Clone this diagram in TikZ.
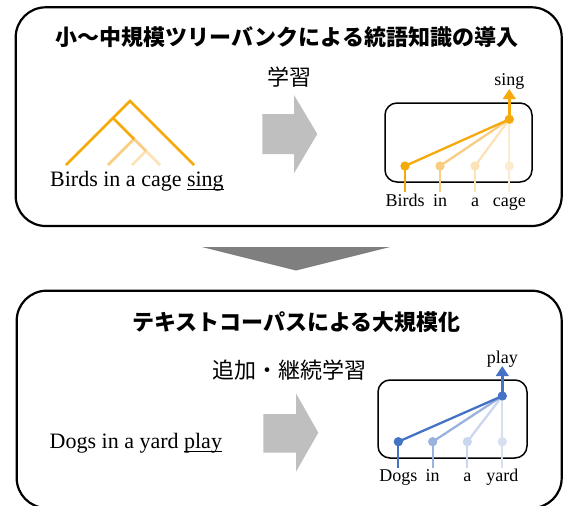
\documentclass[tikz,border=0pt]{standalone}
\usepackage{fontspec}
\setmainfont{Liberation Serif}
\newfontfamily\jp{Noto Sans CJK JP}
\usetikzlibrary{arrows.meta}
\definecolor{or1}{HTML}{F5A90A}
\definecolor{or2}{HTML}{F9CC80}
\definecolor{or3}{HTML}{FCE2B6}
\definecolor{or4}{HTML}{FDEBCF}
\definecolor{bl1}{HTML}{4472C4}
\definecolor{bl2}{HTML}{9AB2DE}
\definecolor{bl3}{HTML}{CAD7EE}
\definecolor{bl4}{HTML}{D7E0F1}
\definecolor{lgray}{HTML}{BFBFBF}
\definecolor{dgray}{HTML}{7F7F7F}
\newcommand\ulword[1]{\setbox0\hbox{#1}\rlap{\rule[-4pt]{\wd0}{1pt}}\box0}
\begin{document}
\begin{tikzpicture}[x=1pt,y=-1pt,
  outerbox/.style={draw,line width=2.2pt,rounded corners=30pt},
  innerbox/.style={draw,line width=1.5pt,rounded corners=12pt},
  titletext/.style={font=\jp\bfseries\fontsize{22}{26}\selectfont,inner sep=0pt},
  jplabel/.style={font=\jp\fontsize{22}{26}\selectfont,inner sep=0pt},
  sent/.style={font=\fontsize{22}{26}\selectfont,inner sep=0pt,anchor=base west},
  word/.style={font=\fontsize{18}{22}\selectfont,inner sep=0pt,anchor=base},
  dotnode/.style={circle,fill=#1,inner sep=0pt,minimum size=9pt},
  link/.style={draw=#1,line width=2.3pt},
  treeline/.style={draw=#1,line width=2.6pt},
  uparrow/.style={draw=#1,line width=2.5pt,-{Triangle[width=12.5pt,length=10pt]}},
]
\useasboundingbox (0,0) rectangle (565,506);

% outer boxes
\draw[outerbox] (15.7,7.3) rectangle (561.7,226);
\draw[outerbox] (16.7,290.7) rectangle (561.7,508);

% down arrow
\fill[dgray] (202,247) -- (390,247) -- (296,270.5) -- cycle;

% titles
\node[titletext] (t1) at (287,36.7) {小〜中規模ツリーバンクによる統語知識の導入};
\node[titletext] (t2) at (296.7,321.7) {テキストコーパスによる大規模化};
\node[jplabel] (l1) at (289,76.7) {学習};
\node[jplabel] (l2) at (289.2,370) {追加・継続学習};

% gray block arrows
\fill[lgray] (262.3,114) -- (294,114) -- (294,95) -- (317.3,134) -- (294,173.3) -- (294,154) -- (262.3,154) -- cycle;
\fill[lgray] (263.3,414) -- (296,414) -- (296,393.3) -- (318.3,432.7) -- (296,471.7) -- (296,452.7) -- (263.3,452.7) -- cycle;

% sentences
\node[sent] (s1) at (50,186) {Birds in a cage \ulword{sing}};
\node[sent] (s2) at (49.5,448) {Dogs in a yard \ulword{play}};

% tree
\coordinate (ta) at (130,101);
\coordinate (tb) at (66,165);
\coordinate (ts) at (194,165);
\coordinate (n1) at (113,118);
\coordinate (n2) at (134,139);
\coordinate (n3) at (146,151);
\coordinate (tin) at (108,165);
\coordinate (ta2) at (132,165);
\coordinate (tc) at (160,165);
\draw[treeline=or3] (ta2) -- (n3) -- (tc);
\draw[treeline=or2] (tin) -- (n2) -- (n3);
\draw[treeline=or1] (tb) -- (ta) -- (ts);
\draw[treeline=or1] (n1) -- (n2);

% top dependency diagram
\draw[innerbox] (385,103) rectangle (532,182);
\node[dotnode=or1] (h1) at (509.3,119.3) {};
\node[dotnode=or4] (d13) at (509.3,166) {};
\node[dotnode=or3] (d12) at (475,166) {};
\node[dotnode=or2] (d11) at (440,166) {};
\node[dotnode=or1] (d10) at (405,166) {};
\coordinate (e10) at (405,191.7);
\coordinate (e11) at (440,191.7);
\coordinate (e12) at (475,191.7);
\coordinate (e13) at (509.3,191.7);
\coordinate (up1) at (509.3,89);
\draw[link=or4] (d13.center) -- (h1.center);
\draw[link=or4] (d13.center) -- (e13);
\draw[link=or3] (d12.center) -- (h1.center);
\draw[link=or3] (d12.center) -- (e12);
\draw[link=or2] (d11.center) -- (h1.center);
\draw[link=or2] (d11.center) -- (e11);
\draw[link=or1] (d10.center) -- (h1.center);
\draw[link=or1] (d10.center) -- (e10);
\draw[uparrow=or1] (h1.center) -- (up1);
\node[dotnode=or4] at (d13) {};
\node[dotnode=or3] at (d12) {};
\node[dotnode=or2] at (d11) {};
\node[dotnode=or1] at (d10) {};
\node[dotnode=or1] at (h1) {};
\node[word] (w10) at (405,206.7) {Birds};
\node[word] (w11) at (440,206.7) {in};
\node[word] (w12) at (475,206.7) {a};
\node[word] (w13) at (509.3,206.7) {cage};
\node[word] (wh1) at (509.3,85) {sing};

% bottom dependency diagram
\draw[innerbox] (378,380) rectangle (527,458);
\node[dotnode=bl1] (h2) at (502.3,396) {};
\node[dotnode=bl4] (d23) at (502.3,441.7) {};
\node[dotnode=bl3] (d22) at (467.3,441.7) {};
\node[dotnode=bl2] (d21) at (432.7,441.7) {};
\node[dotnode=bl1] (d20) at (398.3,441.7) {};
\coordinate (e20) at (398.3,468.3);
\coordinate (e21) at (432.7,468.3);
\coordinate (e22) at (467.3,468.3);
\coordinate (e23) at (502.3,468.3);
\coordinate (up2) at (502.3,366);
\draw[link=bl4] (d23.center) -- (h2.center);
\draw[link=bl4] (d23.center) -- (e23);
\draw[link=bl3] (d22.center) -- (h2.center);
\draw[link=bl3] (d22.center) -- (e22);
\draw[link=bl2] (d21.center) -- (h2.center);
\draw[link=bl2] (d21.center) -- (e21);
\draw[link=bl1] (d20.center) -- (h2.center);
\draw[link=bl1] (d20.center) -- (e20);
\draw[uparrow=bl1] (h2.center) -- (up2);
\node[dotnode=bl4] at (d23) {};
\node[dotnode=bl3] at (d22) {};
\node[dotnode=bl2] at (d21) {};
\node[dotnode=bl1] at (d20) {};
\node[dotnode=bl1] at (h2) {};
\node[word] (w20) at (398.3,481.7) {Dogs};
\node[word] (w21) at (432.7,481.7) {in};
\node[word] (w22) at (467.3,481.7) {a};
\node[word] (w23) at (502.3,481.7) {yard};
\node[word] (wh2) at (502.3,363.3) {play};
\end{tikzpicture}
\end{document}
